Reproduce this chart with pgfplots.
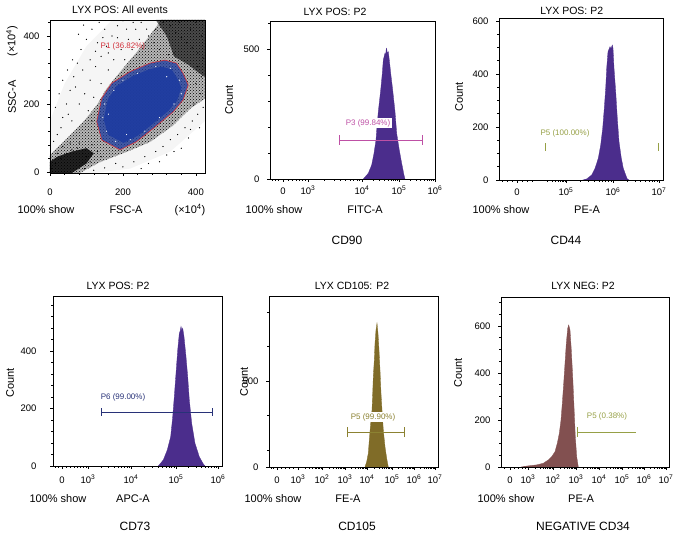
\documentclass[border=0pt]{standalone}
\usepackage{pgfplots}
\pgfplotsset{compat=1.18}
\usetikzlibrary{patterns}
\usepackage{fontspec}
\setmainfont{Liberation Sans}
\definecolor{purp}{RGB}{75,45,140}
\definecolor{olivefill}{RGB}{128,108,40}
\definecolor{mauve}{RGB}{130,80,80}
\definecolor{gmag}{RGB}{190,80,165}
\definecolor{golive}{RGB}{150,160,70}
\definecolor{gnavy}{RGB}{40,50,120}
\definecolor{gbrown}{RGB}{140,130,50}
\definecolor{gred}{RGB}{210,50,60}
\definecolor{pblue}{RGB}{30,60,160}
\pgfplotsset{
 fc/.style={scale only axis, axis on top, anchor=south west, tick align=outside,
   xtick pos=bottom, ytick pos=left, major tick length=3pt, minor tick length=1.8pt,
   tick style={black,line width=0.5pt}, axis line style={line width=0.6pt},
   ticklabel style={font=\fontsize{9.5}{10}\selectfont},
   /pgf/number format/assume math mode=true,
   yticklabel style={xshift=-4pt}},
}
\newcommand{\tl}[1]{10\textsuperscript{#1}}
\begin{document}
\begin{tikzpicture}[x=1pt,y=1pt]
\useasboundingbox (0,0) rectangle (682,536);

% ---------------- Panel 1: scatter ----------------
\begin{axis}[fc, at={(50pt,363pt)}, width=155pt, height=153pt,
  xmin=0, xmax=425, ymin=-3, ymax=447,
  xtick={0,200,400}, ytick={0,200,400},
  minor xtick={40,80,120,160,240,280,320,360},
  minor ytick={40,80,120,160,240,280,320,360,440},
  xticklabel style={anchor=base, yshift=-19.8pt}]
\addplot[fill=black, fill opacity=0.04, draw=none] coordinates {
 (0,-3) (0,150) (40,260) (100,370) (170,447) (425,447) (425,150) (330,60) (220,10) (120,-3) (0,-3)};
\addplot[fill=black, fill opacity=0.25, draw=none] coordinates {
 (0,-3) (0,50) (46,98) (91,147) (128,196) (155,245) (192,294) (238,353) (274,402) (305,447)
 (425,447) (425,216) (384,186) (338,137) (274,88) (210,59) (137,29) (82,-3) (0,-3)};
\addplot[pattern=crosshatch dots, pattern color=black, draw=none] coordinates {
 (0,-3) (0,50) (46,98) (91,147) (128,196) (155,245) (192,294) (238,353) (274,402) (305,447)
 (425,447) (425,216) (384,186) (338,137) (274,88) (210,59) (137,29) (82,-3) (0,-3)};
\addplot[fill=black, fill opacity=0.82, draw=none] coordinates {
 (0,-3) (60,-3) (100,25) (120,55) (100,70) (60,60) (20,45) (0,30) (0,-3)};
\addplot[fill=black, fill opacity=0.6, draw=none] coordinates {
 (290,447) (320,400) (340,340) (380,315) (410,290) (425,280) (425,447) (290,447)};
\addplot[only marks, mark=*, mark size=0.35pt, black] coordinates {
 (20,110) (35,160) (45,200) (55,240) (65,280) (75,320) (85,360) (100,390) (115,420)
 (60,150) (80,200) (95,230) (110,270) (125,310) (140,340) (155,370) (170,400) (185,430)
 (200,445) (130,380) (150,420) (90,300) (70,250) (105,180) (120,220) (140,260) (160,300)
 (175,330) (195,360) (215,390) (235,420) (250,440) (205,330) (225,360) (245,390) (265,420)
 (30,130) (50,170) (10,90) (115,150) (62,330) (48,300) (35,270) (25,230) (15,190) (78,405)
 (92,432) (135,440) (160,350) (185,395) (210,420) (228,440) (110,330) (125,355) (145,395)
 (120,5) (150,12) (180,25) (200,15) (230,30) (260,45) (290,60) (310,75) (330,95) (350,110)
 (370,130) (390,150) (405,170) (420,190) (300,30) (340,60) (380,100) (410,130) (250,10)
 (395,200) (412,230) (400,260) (415,280) (405,310) (360,70) (385,125) (320,50) (270,25)
 (310,440) (330,430) (345,410) (360,395) (375,380) (390,365) (405,350) (420,335) (385,420)
 (400,440) (415,400) (355,440) (340,350) (325,345) (300,360) (285,380) (270,400) (290,420)
 (5,10) (15,25) (30,40) (45,55) (60,65) (75,70) (90,55) (100,45) (110,30) (95,10) (20,55)
 (35,75) (55,85) (80,85) (130,60) (140,45) (115,80)};
\addplot[fill=pblue, fill opacity=0.75, draw=none] coordinates {
 (142,217) (169,261) (219,295) (274,320) (315,329) (347,320) (365,290) (379,256) (365,212)
 (338,177) (283,128) (237,89) (192,65) (142,94) (128,148) (142,217)};
\addplot[fill=pblue, fill opacity=0.92, draw=none] coordinates {
 (158.9,214.5) (181.9,251.9) (224.4,280.8) (271.2,302) (306.0,309.7) (333.2,302) (348.5,276.5)
 (360.4,247.6) (348.5,210.2) (325.6,180.5) (278.8,138.8) (239.7,105.7) (201.5,85.3)
 (158.9,109.9) (147.1,155.8) (158.9,214.5)};
\addplot[only marks, mark=*, mark size=0.3pt, white] coordinates {
 (150,200) (160,170) (175,240) (200,270) (240,290) (290,310) (330,305) (355,270) (360,230)
 (340,200) (300,160) (260,120) (220,95) (180,90) (155,120) (145,160) (320,280) (210,110)};
\addplot[gred, line width=0.6pt] coordinates {
 (142,217) (169,261) (219,295) (274,320) (315,329) (347,320) (365,290) (379,256) (365,212)
 (338,177) (283,128) (237,89) (192,65) (142,94) (128,148) (142,217)};
\node[text=gred, font=\fontsize{8}{9}\selectfont] at (axis cs:200,368) {P1 (36.82\%)};
\end{axis}

% ---------------- Panel 2: CD90 ----------------
\begin{axis}[fc, at={(270pt,357pt)}, width=165pt, height=158pt,
  xmin=0, xmax=165, ymin=0, ymax=608,
  ytick={0,500}, minor ytick={100,200,300,400,600},
  xtick={13,38,92,129,165}, xticklabels={0,\tl{3},\tl{4},\tl{5},\tl{6}},
  minor xtick={2,5,8,18,22,26,29,32,35,54.3,63.8,70.5,75.7,80.0,83.6,86.8,89.5,103.1,109.6,114.3,117.9,120.8,123.3,125.4,127.3,139.8,146.2,150.7,154.2,157.0,159.4,161.5,163.3},
  xticklabel style={anchor=base, yshift=-12.2pt}]
\addplot[fill=purp, draw=purp, line width=0.3pt] coordinates {
 (93.3,0) (98.3,22) (101.7,54) (104,99) (106,150) (106.7,188) (108.3,259) (110.7,342) (112.3,407)
 (113.3,458) (115,484) (115.6,470) (116.2,500) (116.7,503) (117.3,482) (118.3,490) (119.3,458)
 (120.7,407) (122.7,342) (125,259) (126.7,175) (129.3,111) (131.7,60) (134,15) (135,0)} \closedcycle;
\addplot[gmag, line width=0.7pt] coordinates {(69,150) (152,150)};
\addplot[gmag, line width=0.7pt] coordinates {(69,131) (69,169)};
\addplot[gmag, line width=0.7pt] coordinates {(152,131) (152,169)};
\node[text=gmag, fill=white, inner sep=1.5pt, font=\fontsize{8}{9}\selectfont] at (axis cs:98,215) {P3 (99.84\%)};
\end{axis}

% ---------------- Panel 3: CD44 ----------------
\begin{axis}[fc, at={(499pt,356pt)}, width=164pt, height=162pt,
  xmin=0, xmax=164, ymin=0, ymax=611,
  ytick={0,200,400,600}, minor ytick={50,100,150,250,300,350,450,500,550},
  xtick={18,67,114,160}, xticklabels={0,\tl{5},\tl{6},\tl{7}},
  minor xtick={3,8,13,23,28,33,48.1,52.9,56.3,58.9,61.0,62.8,64.4,65.8,81.1,89.4,95.3,99.9,103.6,106.7,109.4,111.8,127.8,135.9,141.7,146.2,149.8,152.9,155.5,157.9},
  xticklabel style={anchor=base, yshift=-12.9pt}]
\addplot[fill=purp, draw=purp, line width=0.3pt] coordinates {
 (84,0) (87.7,4) (92.7,19) (96,44) (99.3,82) (101.7,132) (103.7,195) (105.3,271) (106.7,346)
 (107.7,422) (109,484) (111,503) (112,495) (113.3,509) (114,497) (115,422) (116.7,333) (118.3,233)
 (120,145) (122.3,82) (124.3,44) (126.7,19) (128.3,4) (130,0)} \closedcycle;
\addplot[golive, line width=0.7pt] coordinates {(46,111) (46,141)};
\addplot[golive, line width=0.7pt] coordinates {(159,111) (159,141)};
\node[text=golive, font=\fontsize{8}{9}\selectfont] at (axis cs:66,177) {P5 (100.00\%)};
\end{axis}

% ---------------- Panel 4: CD73 ----------------
\begin{axis}[fc, at={(53pt,70pt)}, width=169pt, height=170pt,
  xmin=0, xmax=169, ymin=0, ymax=591,
  ytick={0,200,400}, minor ytick={40,80,120,160,240,280,320,360,440,480,520,560},
  xtick={9,35,78,123,165}, xticklabels={0,\tl{3},\tl{4},\tl{5},\tl{6}},
  minor xtick={2,5,13,17,21,24,27,30,33,47.9,55.5,60.9,65.1,68.5,71.3,73.8,76.0,91.5,99.5,105.1,109.5,113.0,116.0,118.6,120.9,135.6,143.0,148.3,152.4,155.7,158.5,160.9,163.1},
  xticklabel style={anchor=base, yshift=-14.2pt}, yticklabel style={xshift=-6pt}]
\addplot[fill=purp, draw=purp, line width=0.3pt] coordinates {
 (105.3,0) (110.3,21) (114.3,56) (117.7,102) (119.7,171) (121.3,241) (123,322) (124.7,403)
 (126.3,461) (127.2,470) (128,485) (128.8,472) (129.7,479) (131,450) (133,380) (134.7,311)
 (136.3,230) (138.7,148) (142,79) (146.3,32) (150.3,7) (152,0)} \closedcycle;
\addplot[gnavy, line width=0.7pt] coordinates {(48,188) (159,188)};
\addplot[gnavy, line width=0.7pt] coordinates {(48,174) (48,202)};
\addplot[gnavy, line width=0.7pt] coordinates {(159,174) (159,202)};
\node[text=gnavy, font=\fontsize{8}{9}\selectfont] at (axis cs:70,240) {P6 (99.00\%)};
\end{axis}

% ---------------- Panel 5: CD105 ----------------
\begin{axis}[fc, at={(269pt,69pt)}, width=169pt, height=171pt,
  xmin=0, xmax=169, ymin=0, ymax=994,
  ytick={0,500}, minor ytick={100,300,700,900},
  xtick={8,29,53,76,98,123,145,166}, xticklabels={0,\tl{3},\tl{2},\tl{3},\tl{4},\tl{5},\tl{6},\tl{7}},
  minor xtick={2,4,12,16,20,24,36.2,40.4,43.4,45.8,47.7,49.3,50.7,51.9,59.9,64.0,66.8,69.1,70.9,72.4,73.8,74.9,82.6,86.5,89.2,91.4,93.1,94.6,95.9,97.0,105.5,109.9,113.1,115.5,117.5,119.1,120.6,121.9,129.6,133.5,136.2,138.4,140.1,141.6,142.9,144.0,151.3,155.0,157.6,159.7,161.3,162.7,164.0,165.0},
  xticklabel style={anchor=base, yshift=-13.5pt}]
\addplot[fill=olivefill, draw=olivefill, line width=0.3pt] coordinates {
 (96,0) (97.7,31) (99.3,80) (100.3,157) (101.7,254) (103,331) (103.7,428) (104.3,525) (105.3,622)
 (106,719) (107,797) (108,836) (109,777) (110,680) (111,564) (112,428) (113,331) (114.3,215)
 (116,118) (117.7,50) (119.3,0)} \closedcycle;
\addplot[gbrown, line width=0.7pt] coordinates {(78,203) (135,203)};
\addplot[gbrown, line width=0.7pt] coordinates {(78,174) (78,232)};
\addplot[gbrown, line width=0.7pt] coordinates {(135,174) (135,232)};
\node[text=gbrown, fill=white, inner sep=1.5pt, font=\fontsize{8}{9}\selectfont] at (axis cs:104,291) {P5 (99.90\%)};
\end{axis}

% ---------------- Panel 6: CD34 ----------------
\begin{axis}[fc, at={(501pt,69pt)}, width=168pt, height=170pt,
  xmin=0, xmax=168, ymin=0, ymax=723,
  ytick={0,200,400,600}, minor ytick={50,100,150,250,300,350,450,500,550,650,700},
  xtick={9,27,52,75,98,121,143,165}, xticklabels={0,\tl{3},\tl{2},\tl{3},\tl{4},\tl{5},\tl{6},\tl{7}},
  minor xtick={3,13,17,21,24,34.5,38.9,42.1,44.5,46.5,48.1,49.6,50.9,58.9,63.0,65.8,68.1,69.9,71.4,72.8,73.9,81.9,86.0,88.8,91.1,92.9,94.4,95.8,96.9,104.9,109.0,111.8,114.1,115.9,117.4,118.8,119.9,127.6,131.5,134.2,136.4,138.1,139.6,140.9,142.0,149.6,153.5,156.2,158.4,160.1,161.6,162.9,164.0},
  xticklabel style={anchor=base, yshift=-13.5pt}]
\addplot[fill=mauve, draw=mauve, line width=0.3pt] coordinates {
 (20,0) (25.7,4) (35.7,9) (42.3,16) (47.3,30) (50.7,44) (54,65) (56.3,101) (58.3,143) (60,200)
 (61.3,271) (62.7,356) (64,441) (65.3,526) (66.7,590) (67.7,604) (69,583) (70.3,498) (71.7,384)
 (73,257) (74.3,129) (75.7,44) (77.3,0)} \closedcycle;
\addplot[golive, line width=0.7pt] coordinates {(76,149) (135,149)};
\addplot[golive, line width=0.7pt] coordinates {(76,128) (76,170)};
\node[text=golive, font=\fontsize{8}{9}\selectfont] at (axis cs:106,213) {P5 (0.38\%)};
\end{axis}

% ---------------- titles and labels ----------------
\begin{scope}[font=\fontsize{10.5}{12}\selectfont]
\node at (120,526) {LYX POS: All events};
\node at (335,524.3) {LYX POS: P2};
\node at (571.7,525.3) {LYX POS: P2};
\node at (118,250) {LYX POS: P2};
\node at (352,250) {LYX CD105: P2};
\node at (583,250) {LYX NEG: P2};
\end{scope}
\begin{scope}[font=\fontsize{11}{13}\selectfont]
\node[rotate=90] at (12,439) {SSC-A};
\node[rotate=90] at (12,495) {(×10\textsuperscript{4})};
\node[rotate=90] at (229,436) {Count};
\node[rotate=90] at (459,439) {Count};
\node[rotate=90] at (10,153) {Count};
\node[rotate=90] at (244,154) {Count};
\node[rotate=90] at (458,163) {Count};
\node at (46,326) {100\% show};
\node at (126,326) {FSC-A};
\node at (190,326) {(×10\textsuperscript{4})};
\node at (274,326) {100\% show};
\node at (365,326) {FITC-A};
\node at (501,326) {100\% show};
\node at (587,326) {PE-A};
\node at (58,37) {100\% show};
\node at (133,37) {APC-A};
\node at (273,37) {100\% show};
\node at (348,37) {FE-A};
\node at (506,37) {100\% show};
\node at (581,37) {PE-A};
\end{scope}
\begin{scope}[font=\fontsize{12}{14}\selectfont]
\node at (347,296) {CD90};
\node at (566,296) {CD44};
\node at (135,10) {CD73};
\node at (357,10) {CD105};
\node at (583,10) {NEGATIVE CD34};
\end{scope}
\end{tikzpicture}
\end{document}
